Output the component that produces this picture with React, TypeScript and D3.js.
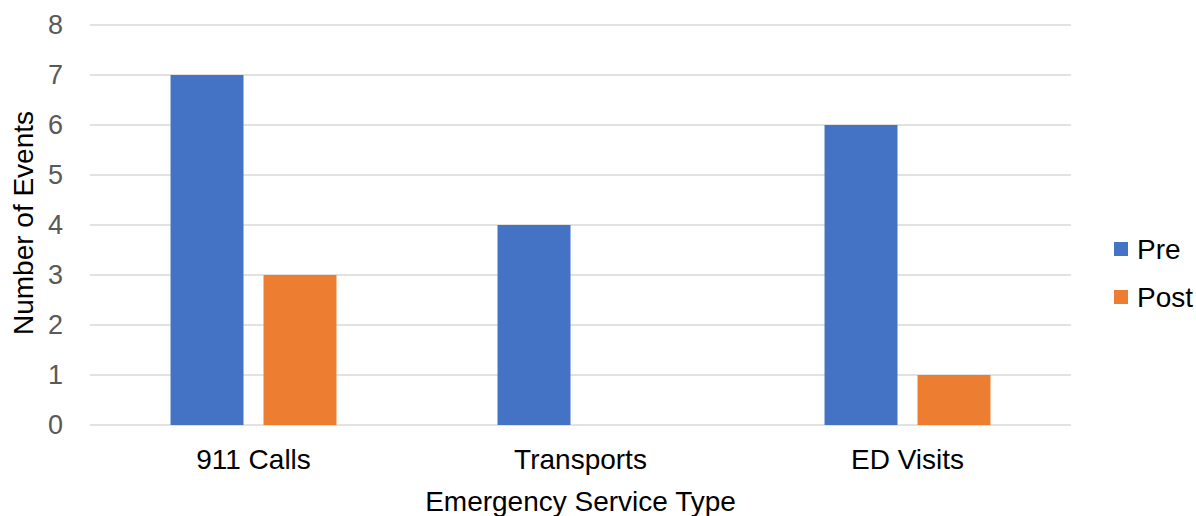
import React, { useEffect, useRef } from "react";
import * as d3 from "d3";

const categories = ["911 Calls", "Transports", "ED Visits"];
const seriesNames = ["Pre", "Post"];
const preValues = [7, 4, 6];
const postValues = [3, 0, 1];
const yTicks = [0, 1, 2, 3, 4, 5, 6, 7, 8];
const colors = ["#4472C4", "#ED7D31"];

const W = 1196;
const H = 516;
const margin = { top: 25, right: 125, bottom: 91, left: 90 };
const FONT = "'Liberation Sans', Arial, sans-serif";

export default function App() {
  const ref = useRef<SVGSVGElement>(null);

  useEffect(() => {
    const svg = d3.select(ref.current);
    svg.selectAll("*").remove();

    const innerW = W - margin.left - margin.right;
    const innerH = H - margin.top - margin.bottom;

    const g = svg.append("g").attr("transform", `translate(${margin.left},${margin.top})`);

    const x = d3.scaleBand().domain(categories).range([0, innerW]).paddingInner(0).paddingOuter(0);
    const x1 = d3
      .scaleBand()
      .domain(seriesNames)
      .range([0, x.bandwidth()])
      .paddingInner(0.215)
      .paddingOuter(0.866);
    const y = d3.scaleLinear().domain([0, 8]).range([innerH, 0]);

    // gridlines
    g.selectAll("line.grid")
      .data(yTicks)
      .enter()
      .append("line")
      .attr("x1", 0)
      .attr("x2", innerW)
      .attr("y1", (d) => y(d))
      .attr("y2", (d) => y(d))
      .attr("stroke", "#d9d9d9")
      .attr("stroke-width", 1.5);

    // y tick labels
    g.selectAll("text.ytick")
      .data(yTicks)
      .enter()
      .append("text")
      .attr("x", -27)
      .attr("y", (d) => y(d))
      .attr("dy", "0.35em")
      .attr("text-anchor", "end")
      .attr("font-family", FONT)
      .attr("font-size", 27)
      .attr("fill", "#595959")
      .text((d) => d);

    const rows = categories.map((c, i) => ({ cat: c, vals: [preValues[i], postValues[i]] }));

    const groups = g
      .selectAll("g.cat")
      .data(rows)
      .enter()
      .append("g")
      .attr("transform", (d) => `translate(${x(d.cat)},0)`);

    groups
      .selectAll("rect")
      .data((d) => d.vals.map((v, j) => ({ key: seriesNames[j], v, j })))
      .enter()
      .append("rect")
      .attr("x", (d) => x1(d.key)!)
      .attr("width", x1.bandwidth())
      .attr("y", (d) => y(d.v))
      .attr("height", (d) => innerH - y(d.v))
      .attr("fill", (d) => colors[d.j]);

    // x labels
    g.selectAll("text.xlab")
      .data(categories)
      .enter()
      .append("text")
      .attr("x", (d) => x(d)! + x.bandwidth() / 2)
      .attr("y", innerH + 44)
      .attr("text-anchor", "middle")
      .attr("font-family", FONT)
      .attr("font-size", 28)
      .attr("fill", "#000")
      .text((d) => d);

    // axis titles
    g.append("text")
      .attr("x", innerW / 2)
      .attr("y", innerH + 86)
      .attr("text-anchor", "middle")
      .attr("font-family", FONT)
      .attr("font-size", 28)
      .attr("fill", "#000")
      .text("Emergency Service Type");

    svg
      .append("text")
      .attr("transform", `translate(33,223) rotate(-90)`)
      .attr("text-anchor", "middle")
      .attr("font-family", FONT)
      .attr("font-size", 28)
      .attr("fill", "#000")
      .text("Number of Events");

    // legend
    const legend = svg
      .selectAll("g.legend")
      .data(seriesNames)
      .enter()
      .append("g")
      .attr("transform", (_d, i) => `translate(1114,${249 + i * 48})`);
    legend
      .append("rect")
      .attr("x", 0)
      .attr("y", -7)
      .attr("width", 14)
      .attr("height", 14)
      .attr("fill", (_d, i) => colors[i]);
    legend
      .append("text")
      .attr("x", 23)
      .attr("y", 0)
      .attr("dy", "0.35em")
      .attr("font-family", FONT)
      .attr("font-size", 28)
      .attr("fill", "#000")
      .text((d) => d);
  }, []);

  return (
    <svg
      ref={ref}
      width={W}
      height={H}
      style={{ position: "absolute", left: 0, top: 0, background: "#fff" }}
    />
  );
}
